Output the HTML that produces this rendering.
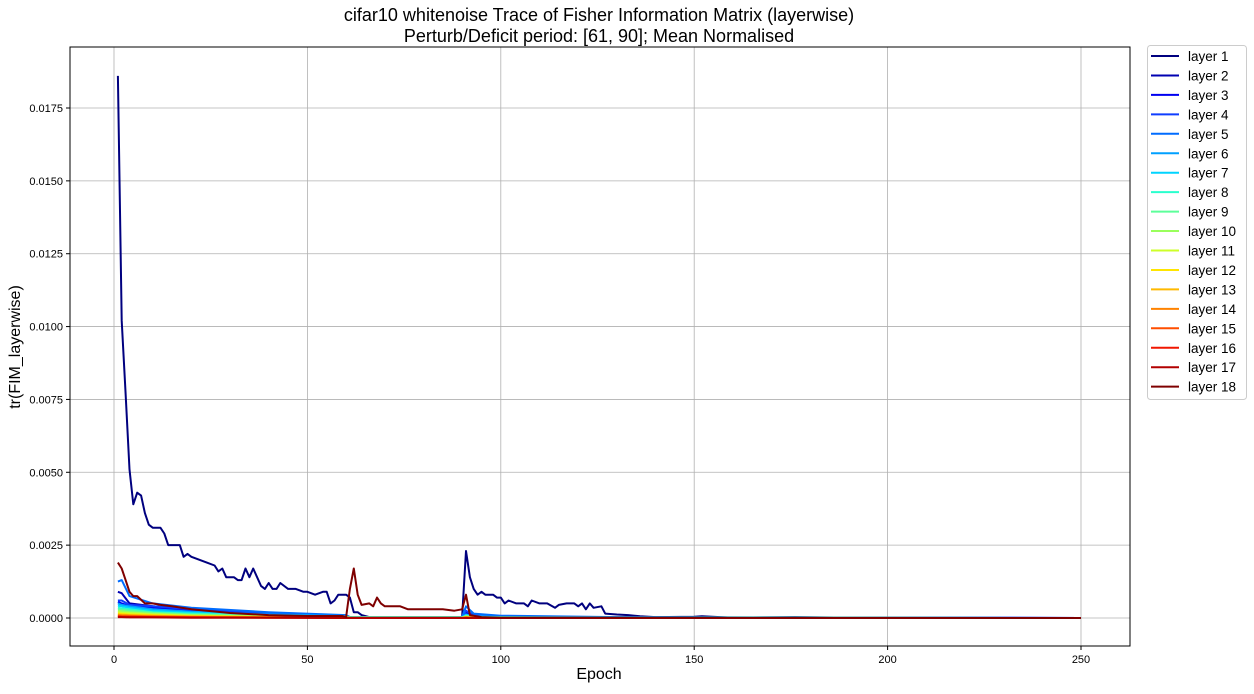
<!DOCTYPE html>
<html><head><meta charset="utf-8"><style>
body{margin:0;background:#fff;width:1254px;height:689px;overflow:hidden;font-family:"Liberation Sans",sans-serif}
svg text{font-family:"Liberation Sans",sans-serif}
</style></head><body>
<svg id="chart" width="1254" height="689">
<text x="599" y="21" font-size="18" text-anchor="middle">cifar10 whitenoise Trace of Fisher Information Matrix (layerwise)</text>
<text x="599" y="42" font-size="18" text-anchor="middle">Perturb/Deficit period: [61, 90]; Mean Normalised</text>
<g id="grid"></g><g id="series"></g><g id="axes"></g>
<text x="599" y="679" font-size="16" text-anchor="middle">Epoch</text>
<text x="20" y="347" font-size="16" text-anchor="middle" transform="rotate(-90 20 347)">tr(FIM_layerwise)</text>
<g id="legend"></g>
</svg>
<script>
const xTicks=[0,50,100,150,200,250];
const yTicks=[0,0.0025,0.005,0.0075,0.01,0.0125,0.015,0.0175];
const yTickLabels=["0.0000","0.0025","0.0050","0.0075","0.0100","0.0125","0.0150","0.0175"];
const layerNames=["layer 1","layer 2","layer 3","layer 4","layer 5","layer 6","layer 7","layer 8","layer 9","layer 10","layer 11","layer 12","layer 13","layer 14","layer 15","layer 16","layer 17","layer 18"];
const layerColors=["#00007f","#0000b2","#0000f1","#0f3dff","#006cff","#00a0ff","#00d4ff","#29ffce","#5cff9a","#9aff5c","#ceff29","#ffe500","#ffb900","#ff8200","#ff4e00","#f11700","#b20000","#7f0000"];
const l1Epochs=[1,2,3,4,5,6,7,8,9,10,12,13,14,17,18,19,20,22,24,26,27,28,29,31,32,33,34,35,36,37,38,39,40,41,42,43,45,47,49,50,52,54,55,56,57,58,59,60,61,62,63,64,66,90,91,92,93,94,95,96,98,99,100,101,102,104,106,107,108,110,112,114,115,117,119,120,121,122,123,124,126,127,130,133,136,140,150,152,160,176,200,250];
const l1Values=[0.0186,0.0102,0.0077,0.0051,0.0039,0.0043,0.0042,0.0036,0.0032,0.0031,0.0031,0.0029,0.0025,0.0025,0.0021,0.0022,0.0021,0.002,0.0019,0.0018,0.0016,0.0017,0.0014,0.0014,0.0013,0.0013,0.0017,0.0014,0.0017,0.0014,0.0011,0.001,0.0012,0.001,0.001,0.0012,0.001,0.001,0.0009,0.0009,0.0008,0.0009,0.0009,0.0005,0.0006,0.0008,0.0008,0.0008,0.0007,0.0002,0.0002,0.0001,0.00003,0.00003,0.0023,0.0014,0.001,0.0008,0.0009,0.0008,0.0008,0.0007,0.0007,0.0005,0.0006,0.0005,0.0005,0.0004,0.0006,0.0005,0.0005,0.00035,0.00045,0.0005,0.0005,0.0004,0.0005,0.0003,0.0005,0.00035,0.0004,0.00015,0.00012,0.0001,0.00006,0.00003,0.00004,0.00006,0.00001,0.00003,0,0];
const l18Epochs=[1,2,3,4,5,6,8,10,12,15,20,30,40,50,59,60,61,62,63,64,66,67,68,69,70,72,74,76,80,85,88,90,91,92,95,100,250];
const l18Values=[0.0019,0.0017,0.0013,0.0009,0.00075,0.00075,0.0005,0.0005,0.00045,0.0004,0.0003,0.00017,0.0001,0.00007,0.00007,0.00003,0.001,0.0017,0.0008,0.00045,0.0005,0.0004,0.0007,0.0005,0.0004,0.0004,0.0004,0.0003,0.0003,0.0003,0.00025,0.0003,0.0008,0.0001,0.00003,0.00001,0];
const smallEpochs=[1,2,4,10,20,40,60,61,90,91,93,100,130,250];
const l2Values=[0.0009,0.00085,0.0005,0.0004,0.0003,0.00015,0.00008,0.00003,0.00003,0.0002,0.0001,0.00005,0.00002,0];
const l3Values=[0.00055,0.0005,0.0004,0.00035,0.00025,0.00013,0.00007,0.00002,0.00002,0.00015,0.00008,0.00004,0.00002,0];
const l4Values=[0.0006,0.0006,0.00045,0.0004,0.0003,0.00015,0.00009,0.00002,0.00002,0.00025,0.0001,0.00005,0.00002,0];
const l5Values=[0.00125,0.0013,0.00075,0.0005,0.00035,0.0002,0.0001,0.00003,0.00003,0.0004,0.00015,0.00008,0.00003,0];
const l6Values=[0.0005,0.00045,0.0004,0.0003,0.00022,0.00012,0.00007,0.00002,0.00002,0.00012,0.00006,0.00003,0.00001,0];
const l7Values=[0.00042,0.0004,0.00035,0.00025,0.00018,0.0001,0.00005,0.00002,0.00002,0.0001,0.00005,0.00002,0.00001,0];
const l8Values=[0.00035,0.00033,0.0003,0.0002,0.00015,0.00008,0.00004,0.00001,0.00001,0.00008,0.00004,0.00002,0.00001,0];
const l9Values=[0.0003,0.00028,0.00025,0.00018,0.00012,0.00006,0.00003,0.00001,0.00001,0.00006,0.00003,0.00001,0.00001,0];
const l10Values=[0.00025,0.00023,0.0002,0.00015,0.0001,0.00005,0.00003,0.00001,0.00001,0.00005,0.00002,0.00001,0,0];
const l11Values=[0.0002,0.00018,0.00016,0.00012,0.00008,0.00004,0.00002,0.00001,0.00001,0.00004,0.00002,0.00001,0,0];
const l12Values=[0.00015,0.00014,0.00012,0.0001,0.00006,0.00003,0.00002,0.00001,0.00001,0.00003,0.00001,0,0,0];
const l13Values=[0.00012,0.00011,0.0001,0.00008,0.00005,0.00003,0.00001,0,0,0.00002,0.00001,0,0,0];
const l14Values=[0.0001,0.00009,0.00008,0.00006,0.00004,0.00002,0.00001,0,0,0.00002,0.00001,0,0,0];
const l15Values=[0.00007,0.00006,0.00005,0.00004,0.00003,0.00002,0.00001,0,0,0.00001,0,0,0,0];
const l16Values=[0.00005,0.00004,0.00004,0.00003,0.00002,0.00001,0.00001,0,0,0.00001,0,0,0,0];
const l17Values=[0.00003,0.00003,0.00002,0.00002,0.00001,0.00001,0,0,0,0,0,0,0,0];

const PX0=70,PX1=1130,PY0=47,PY1=646;
const xs=e=>114+(e-0)*(1081-114)/250;
const ys=v=>618-v*(618-108)/0.0175;
const NS="http://www.w3.org/2000/svg";
function mk(t,a,p){const e=document.createElementNS(NS,t);for(const k in a)e.setAttribute(k,a[k]);p.appendChild(e);return e;}
const grid=document.getElementById('grid'),axes=document.getElementById('axes'),ser=document.getElementById('series'),leg=document.getElementById('legend');
xTicks.forEach(t=>{const x=xs(t);
 const g=mk('line',{x1:x,x2:x,y1:PY0,y2:PY1,stroke:'#b0b0b0','stroke-width':0.8},grid);
 
 
 mk('line',{x1:x,x2:x,y1:PY1,y2:PY1+4,stroke:'#000'},axes);
 const l=mk('text',{x:x,y:PY1+17,'font-size':11,'text-anchor':'middle'},axes);l.textContent=t;
 
 });
yTicks.forEach((t,i)=>{const y=ys(t);
 const g=mk('line',{x1:PX0,x2:PX1,y1:y,y2:y,stroke:'#b0b0b0','stroke-width':0.8},grid);
 
 
 mk('line',{x1:PX0-4,x2:PX0,y1:y,y2:y,stroke:'#000'},axes);
 const l=mk('text',{x:PX0-7,y:y+4,'font-size':11,'text-anchor':'end'},axes);l.textContent=yTickLabels[i];
 
 });
const fr=mk('rect',{x:PX0,y:PY0,width:PX1-PX0,height:PY1-PY0,fill:'none',stroke:'#000','stroke-width':1},axes);


const smallSeries=[l2Values,l3Values,l4Values,l5Values,l6Values,l7Values,l8Values,l9Values,l10Values,l11Values,l12Values,l13Values,l14Values,l15Values,l16Values,l17Values];
const all=[[l1Epochs,l1Values]];
smallSeries.forEach(v=>all.push([smallEpochs,v]));
all.push([l18Epochs,l18Values]);
all.forEach((s,i)=>{
 const d=s[0].map((e,j)=>(j?'L':'M')+xs(e).toFixed(1)+','+ys(s[1][j]).toFixed(1)).join('');
 const p=mk('path',{d:d,fill:'none',stroke:layerColors[i],'stroke-width':2,'stroke-linejoin':'round'},ser);
 
 
});
// draw layer 1 on top of small ones (after 18 too as in reference order) keep order
const lb=mk('rect',{x:1147.5,y:45.5,width:99,height:354,rx:3,fill:'#fff',stroke:'#ccc'},leg);


layerNames.forEach((n,i)=>{const y=56+i*19.45;
 const g=mk('g',{},leg);
 
 
 mk('line',{x1:1151,x2:1179,y1:y,y2:y,stroke:layerColors[i],'stroke-width':2},g);
 const t=mk('text',{x:1188,y:y+5,'font-size':13.5},g);t.textContent=n;});
</script>
</body></html>
